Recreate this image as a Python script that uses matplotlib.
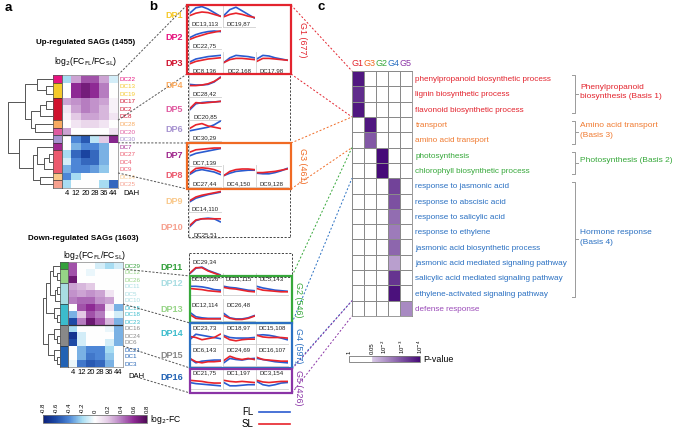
import numpy as np
import matplotlib
matplotlib.use('Agg')
import matplotlib.pyplot as plt
from matplotlib.colors import LinearSegmentedColormap
from matplotlib.patches import Rectangle
from matplotlib.lines import Line2D

plt.rcParams['font.family'] = ['Liberation Sans', 'DejaVu Sans']

W, H = 675, 429

# ------------------------------------------------------------------ data
dah = [4, 12, 20, 28, 36, 44]

up_rows = ['DC22', 'DC13', 'DC19', 'DC17', 'DC2', 'DC8', 'DC28', 'DC20',
           'DC30', 'DC7', 'DC27', 'DC4', 'DC9', 'DC14', 'DC25']
up_values = [
    [-0.20, 0.30, 0.50, 0.50, 0.30, -0.10],
    [0.00, 0.60, 0.68, 0.60, 0.40, 0.00],
    [0.00, 0.60, 0.68, 0.60, 0.40, 0.00],
    [0.30, 0.35, 0.40, 0.35, 0.30, 0.05],
    [0.10, 0.30, 0.40, 0.35, 0.25, 0.05],
    [0.05, 0.20, 0.30, 0.30, 0.25, 0.10],
    [0.00, 0.10, 0.15, 0.15, 0.10, 0.00],
    [0.30, 0.00, 0.00, 0.00, 0.00, 0.10],
    [0.00, -0.40, -0.55, -0.15, 0.20, 0.62],
    [0.00, -0.30, -0.40, -0.40, -0.30, 0.00],
    [-0.20, -0.50, -0.62, -0.50, -0.30, 0.00],
    [-0.10, -0.40, -0.50, -0.50, -0.30, 0.00],
    [-0.30, -0.40, -0.40, -0.35, -0.25, 0.00],
    [-0.40, -0.20, 0.00, 0.00, 0.00, 0.00],
    [-0.20, 0.00, 0.00, 0.00, -0.20, -0.50],
]
up_colors = ['#e6127e', '#f5c82a', '#f5c82a', '#d0122e', '#d0122e', '#d0122e',
             '#f8aa60', '#e05aa0', '#a692d0', '#a0288e', '#ec5a6e', '#ec5a6e',
             '#ec5a6e', '#f9c88a', '#f6a08e']
# linkage: (a, b, height) ; indices >= n are earlier merges
up_links = [(1, 2, 0.15), (0, 15, 0.35), (3, 4, 0.15), (17, 5, 0.30),
            (6, 7, 0.40), (18, 19, 0.50), (16, 20, 0.62),
            (10, 11, 0.10), (22, 12, 0.20), (9, 23, 0.35), (13, 14, 0.30),
            (24, 25, 0.45), (8, 26, 0.75), (21, 27, 1.00)]

down_rows = ['DC29', 'DC12', 'DC26', 'DC11', 'DC5', 'DC10', 'DC15', 'DC18',
             'DC23', 'DC16', 'DC24', 'DC6', 'DC21', 'DC1', 'DC3']
down_values = [
    [0.50, 0.00, 0.00, -0.10, -0.20, -0.10],
    [0.50, 0.00, -0.05, 0.00, 0.00, 0.00],
    [0.70, 0.00, 0.00, 0.00, 0.00, 0.00],
    [0.30, 0.25, 0.20, 0.00, 0.00, 0.00],
    [0.35, 0.30, 0.35, 0.30, 0.10, 0.00],
    [0.40, 0.45, 0.45, 0.35, 0.30, 0.00],
    [0.00, 0.50, 0.60, 0.50, 0.10, -0.30],
    [-0.30, 0.20, 0.50, 0.40, 0.00, -0.10],
    [-0.60, 0.40, 0.70, 0.50, 0.25, -0.30],
    [-0.20, 0.00, 0.00, 0.00, -0.05, -0.30],
    [-0.70, -0.10, 0.00, 0.00, 0.00, -0.30],
    [-0.60, -0.10, 0.00, 0.00, -0.10, -0.30],
    [0.00, -0.30, -0.40, -0.40, -0.20, 0.00],
    [0.00, -0.30, -0.45, -0.40, -0.25, 0.00],
    [-0.05, -0.45, -0.55, -0.50, -0.30, 0.00],
]
down_colors = ['#34a03c', '#96d486', '#96d486', '#a8dde2', '#a8dde2', '#a8dde2',
               '#3cbccc', '#3cbccc', '#3cbccc', '#888888', '#888888', '#888888',
               '#2262b4', '#2262b4', '#2262b4']
down_links = [(1, 2, 0.20), (0, 15, 0.40), (3, 4, 0.15), (17, 5, 0.30),
              (16, 18, 0.60), (7, 8, 0.20), (6, 20, 0.35), (19, 21, 0.80),
              (10, 11, 0.15), (9, 23, 0.35), (13, 14, 0.20), (12, 25, 0.35),
              (24, 26, 0.70), (22, 27, 1.00)]

dp_names = ['DP%d' % i for i in range(1, 17)]
dp_colors = ['#f5c82a', '#e6127e', '#d0122e', '#f8aa60', '#e05aa0', '#a692d0',
             '#a0288e', '#ec5a6e', '#f9c88a', '#f6a08e', '#34a03c', '#a8dde2',
             '#96d486', '#3cbccc', '#888888', '#2262b4']
dp_cells = [['DC13,113', 'DC19,87'], ['DC22,75'], ['DC8,136', 'DC2,168', 'DC17,98'],
            ['DC28,42'], ['DC20,85'], ['DC30,29'], ['DC7,139'],
            ['DC27,44', 'DC4,150', 'DC9,128'], ['DC14,110'], ['DC25,51'],
            ['DC29,34'], ['DC10,126', 'DC11,115', 'DC5,143'], ['DC12,114', 'DC26,48'],
            ['DC23,73', 'DC18,97', 'DC15,108'], ['DC6,143', 'DC24,69', 'DC16,107'],
            ['DC21,75', 'DC1,197', 'DC3,154']]

fl = {'DC13': [0.40, 0.85, 0.95, 0.75, 0.45, 0.15], 'DC19': [0.20, 0.70, 0.90, 0.60, 0.30, 0.00],
      'DC22': [0.20, 0.45, 0.60, 0.70, 0.75, 0.70], 'DC8': [0.25, 0.50, 0.60, 0.70, 0.75, 0.80],
      'DC2': [0.20, 0.60, 0.80, 0.75, 0.70, 0.60], 'DC17': [0.50, 0.80, 0.75, 0.60, 0.50, 0.40],
      'DC28': [0.30, 0.25, 0.25, 0.30, 0.50, 0.90], 'DC20': [0.10, 0.60, 0.70, 0.75, 0.75, 0.80],
      'DC30': [0.10, 0.20, 0.30, 0.40, 0.60, 0.90], 'DC7': [0.10, 0.30, 0.40, 0.50, 0.60, 0.70],
      'DC27': [0.30, 0.60, 0.70, 0.60, 0.50, 0.30], 'DC4': [0.20, 0.40, 0.55, 0.60, 0.65, 0.65],
      'DC9': [0.40, 0.35, 0.35, 0.45, 0.60, 0.80], 'DC14': [0.10, 0.40, 0.55, 0.70, 0.80, 0.90],
      'DC25': [0.20, 0.70, 0.85, 0.90, 0.85, 0.60], 'DC29': [0.30, 0.80, 0.90, 0.60, 0.40, 0.20],
      'DC10': [0.70, 0.70, 0.65, 0.55, 0.40, 0.35], 'DC11': [0.70, 0.60, 0.55, 0.45, 0.35, 0.30],
      'DC5': [0.70, 0.55, 0.45, 0.35, 0.30, 0.25], 'DC12': [0.70, 0.30, 0.20, 0.15, 0.15, 0.15],
      'DC26': [0.60, 0.20, 0.10, 0.10, 0.20, 0.40], 'DC23': [0.30, 0.80, 0.70, 0.60, 0.50, 0.40],
      'DC18': [0.70, 0.50, 0.45, 0.45, 0.45, 0.50], 'DC15': [0.70, 0.75, 0.70, 0.60, 0.45, 0.30],
      'DC6': [0.60, 0.20, 0.35, 0.40, 0.45, 0.45], 'DC24': [0.20, 0.60, 0.50, 0.45, 0.55, 0.60],
      'DC16': [0.60, 0.50, 0.40, 0.30, 0.25, 0.20], 'DC21': [0.50, 0.40, 0.35, 0.30, 0.25, 0.20],
      'DC1': [0.50, 0.20, 0.20, 0.25, 0.30, 0.30], 'DC3': [0.60, 0.30, 0.20, 0.30, 0.45, 0.50]}
sl = {'DC13': [0.20, 0.40, 0.50, 0.45, 0.30, 0.15], 'DC19': [0.10, 0.30, 0.40, 0.30, 0.15, 0.05],
      'DC22': [0.05, 0.25, 0.40, 0.55, 0.65, 0.75], 'DC8': [0.10, 0.30, 0.40, 0.50, 0.55, 0.60],
      'DC2': [0.20, 0.45, 0.55, 0.55, 0.50, 0.45], 'DC17': [0.30, 0.55, 0.55, 0.50, 0.45, 0.40],
      'DC28': [0.20, 0.20, 0.25, 0.35, 0.55, 0.85], 'DC20': [0.20, 0.70, 0.65, 0.70, 0.75, 0.80],
      'DC30': [0.30, 0.60, 0.70, 0.50, 0.40, 0.30], 'DC7': [0.40, 0.60, 0.65, 0.70, 0.75, 0.75],
      'DC27': [0.40, 0.80, 0.85, 0.80, 0.70, 0.50], 'DC4': [0.20, 0.55, 0.70, 0.75, 0.75, 0.70],
      'DC9': [0.45, 0.45, 0.50, 0.55, 0.65, 0.75], 'DC14': [0.20, 0.50, 0.65, 0.75, 0.85, 0.95],
      'DC25': [0.30, 0.75, 0.85, 0.85, 0.85, 0.85], 'DC29': [0.35, 0.85, 0.85, 0.55, 0.35, 0.15],
      'DC10': [0.50, 0.45, 0.40, 0.30, 0.25, 0.20], 'DC11': [0.60, 0.50, 0.45, 0.35, 0.25, 0.20],
      'DC5': [0.50, 0.35, 0.30, 0.25, 0.20, 0.20], 'DC12': [0.50, 0.15, 0.10, 0.10, 0.10, 0.10],
      'DC26': [0.40, 0.15, 0.05, 0.05, 0.15, 0.35], 'DC23': [0.60, 0.50, 0.30, 0.40, 0.50, 0.80],
      'DC18': [0.60, 0.30, 0.20, 0.30, 0.35, 0.35], 'DC15': [0.70, 0.55, 0.50, 0.50, 0.50, 0.45],
      'DC6': [0.60, 0.30, 0.20, 0.30, 0.30, 0.35], 'DC24': [0.40, 0.80, 0.60, 0.50, 0.60, 0.50],
      'DC16': [0.70, 0.50, 0.45, 0.40, 0.35, 0.35], 'DC21': [0.70, 0.65, 0.60, 0.50, 0.45, 0.45],
      'DC1': [0.70, 0.60, 0.55, 0.60, 0.55, 0.50], 'DC3': [0.70, 0.55, 0.50, 0.55, 0.60, 0.60]}

group_labels = ['G1 (677)', 'G3 (461)', 'G2 (546)', 'G4 (597)', 'G5 (426)']
group_colors = ['#e3242e', '#f06a24', '#36a83a', '#2a70c2', '#8a34a6']

go_headers = ['G1', 'G3', 'G2', 'G4', 'G5']
go_terms = ['phenylpropanoid biosynthetic process', 'lignin biosynthetic process',
            'flavonoid biosynthetic process', 'transport', 'amino acid transport',
            'photosynthesis', 'chlorophyll biosynthetic process',
            'response to jasmonic acid', 'response to abscisic acid',
            'response to salicylic acid', 'response to ethylene',
            'jasmonic acid biosynthetic process', 'jasmonic acid mediated signaling pathway',
            'salicylic acid mediated signaling pathway', 'ethylene-activated signaling pathway',
            'defense response']
go_group_idx = [0, 0, 0, 1, 1, 2, 2, 3, 3, 3, 3, 3, 3, 3, 3, 4]
go_neglog10p = [3.8, 3.5, 3.8, 3.8, 2.9, 4.0, 4.0, 3.2, 3.0, 2.6, 2.4, 2.7, 1.9, 3.4, 3.9, 2.2]

basis_labels = ['Phenylpropanoid\nbiosynthesis (Basis 1)', 'Amino acid transport\n(Basis 3)',
                'Photosynthesis (Basis 2)', 'Hormone response\n(Basis 4)']
basis_rows = [(0, 2), (3, 4), (5, 6), (7, 14)]
basis_colors = ['#e3242e', '#f07a30', '#36a83a', '#2a70c2']

# ------------------------------------------------------------------ layout helpers
fig = plt.figure(figsize=(6.75, 4.29), dpi=100)


def pax(x0, y0, x1, y1):
    return fig.add_axes([x0 / W, 1 - y1 / H, (x1 - x0) / W, (y1 - y0) / H])


ov = pax(0, 0, W, H)
ov.set_xlim(0, W)
ov.set_ylim(H, 0)
ov.axis('off')
ov.set_zorder(5)

fc_cmap = LinearSegmentedColormap.from_list('fc', [
    (0, '#0b1f7a'), (0.125, '#1d4aa6'), (0.25, '#4d86d6'), (0.375, '#a6dcf2'),
    (0.5, '#ffffff'), (0.625, '#e4cce6'), (0.75, '#b77fc2'), (0.875, '#8e2a94'),
    (1, '#4e0a55')])


def draw_dendro(links, n, y_top, row_h, x_right, width):
    pos = {i: y_top + (i + 0.5) * row_h for i in range(n)}
    hgt = {i: 0.0 for i in range(n)}
    for k, (a, b, h) in enumerate(links):
        xa = x_right - hgt[a] * width
        xb = x_right - hgt[b] * width
        xh = x_right - h * width
        ov.plot([xa, xh, xh, xb], [pos[a], pos[a], pos[b], pos[b]],
                color='#555555', lw=0.7, solid_capstyle='butt')
        pos[n + k] = (pos[a] + pos[b]) / 2
        hgt[n + k] = h


def heat_block(rows, values, colors, links, hx0, hx1, hy0, hy1, sx0, dx0, split,
               title, tx, ty, lx, ly):
    n = len(rows)
    ax = pax(hx0, hy0, hx1, hy1)
    ax.imshow(np.array(values), cmap=fc_cmap, vmin=-0.8, vmax=0.8, aspect='auto',
              interpolation='nearest')
    ax.set_yticks(range(n))
    ax.set_yticklabels(rows, fontsize=4.5)
    ax.yaxis.tick_right()
    for t, c in zip(ax.get_yticklabels(), colors):
        t.set_color(c)
    ax.set_xticks(range(len(dah)))
    ax.set_xticklabels([str(d) for d in dah], fontsize=5.5)
    ax.tick_params(length=0, pad=1.2)
    for s in ax.spines.values():
        s.set_color('#999999')
        s.set_linewidth(0.6)
    ax.axhline(split - 0.5, color='#333333', lw=0.9)
    # strip
    sax = pax(sx0, hy0, hx0, hy1)
    sax.barh(range(n), [1] * n, height=1.0, color=colors, edgecolor='none')
    sax.set_ylim(n - 0.5, -0.5)
    sax.set_xlim(0, 1)
    for i in range(1, n):
        if colors[i] != colors[i - 1]:
            sax.axhline(i - 0.5, color='#333333', lw=0.5)
    sax.set_xticks([])
    sax.set_yticks([])
    for s in sax.spines.values():
        s.set_color('#555555')
        s.set_linewidth(0.5)
    draw_dendro(links, n, hy0, (hy1 - hy0) / n, sx0, sx0 - dx0)
    ov.text(tx, ty, title, fontsize=5.8, fontweight='bold', ha='center', va='center')
    ov.text(lx, ly, r'log$_2$(FC$_{\rm FL}$/FC$_{\rm SL}$)', fontsize=6.2,
            ha='center', va='center')
    return ax


ax_up = heat_block(up_rows, up_values, up_colors, up_links, 62, 118, 75, 188, 53, 8, 8,
                   'Up-regulated SAGs (1455)', 86, 43, 86, 62)
ov.text(123, 193.5, 'DAH', fontsize=5.5, ha='left', va='center')
ax_dn = heat_block(down_rows, down_values, down_colors, down_links, 68, 123, 262, 367, 60, 43, 9,
                   'Down-regulated SAGs (1603)', 83, 239, 95, 255)
ov.text(128, 377, 'DAH', fontsize=5.5, ha='left', va='center')

# colorbar a
cax = pax(43, 415, 147, 423)
sm = plt.cm.ScalarMappable(cmap=fc_cmap, norm=plt.Normalize(-0.8, 0.8))
cb = fig.colorbar(sm, cax=cax, orientation='horizontal')
cb.set_ticks([-0.8, -0.6, -0.4, -0.2, 0, 0.2, 0.4, 0.6, 0.8])
cb.ax.xaxis.set_ticks_position('top')
cb.ax.tick_params(labelsize=4.3, length=0, pad=1.5, labelrotation=90)
cb.ax.set_xticklabels(['-0.8', '-0.6', '-0.4', '-0.2', '0', '0.2', '0.4', '0.6', '0.8'])
cb.outline.set_edgecolor('#777777')
cb.outline.set_linewidth(0.6)
ov.text(150, 419, r'log$_2$-FC', fontsize=6.2, ha='left', va='center')

# ------------------------------------------------------------------ panel b
dp_y = [16, 38, 63, 86, 109, 130, 155, 176, 201, 227, 267, 284, 310, 333, 355, 378]
col_x = [189, 223, 256]
cell_w = 32
for i, (name, color, cells, yc) in enumerate(zip(dp_names, dp_colors, dp_cells, dp_y)):
    ov.text(183, yc, name, color=color, fontsize=6.5, fontweight='bold', ha='right', va='center')
    upper = i < 10
    for j, cell in enumerate(cells):
        key = cell.split(',')[0]
        ax = pax(col_x[j], yc - 11, col_x[j] + cell_w, yc + 11)
        ax.plot(dah, fl[key], color='#2a5bd0', lw=1.2)
        ax.plot(dah, sl[key], color='#e8232b', lw=1.2)
        ax.set_xlim(3, 45)
        if upper:
            ax.set_ylim(-0.75, 1.083)
            ax.text(0.5, 3.5 / 22, cell, transform=ax.transAxes, fontsize=4.4,
                    ha='center', va='center', color='#222222')
        else:
            ax.set_ylim(-0.09, 1.91)
            ax.text(0.5, 16 / 22, cell, transform=ax.transAxes, fontsize=4.4,
                    ha='center', va='center', color='#222222')
        ax.set_xticks([])
        ax.set_yticks([])
        for sname, s in ax.spines.items():
            if sname in ('left', 'bottom'):
                s.set_color('#d0d0d0')
                s.set_linewidth(0.6)
            else:
                s.set_visible(False)
        ax.patch.set_alpha(0)

# dashed boxes
dash = (0, (2.2, 1.6))
ov.plot([188, 188], [5, 237], color='#444444', lw=0.7, ls=dash)
ov.plot([290, 290], [5, 237], color='#444444', lw=0.7, ls=dash)
ov.plot([188, 290], [237, 237], color='#444444', lw=0.7, ls=dash)
ov.add_patch(Rectangle((189, 253), 103, 24, fill=False, ec='#444444', lw=0.7, ls=dash))

# group boxes
group_boxes = [(187, 5, 291, 74), (187, 143, 291, 189), (190, 276, 292, 323),
               (190, 323, 292, 368), (190, 369, 292, 393)]
group_lx = [303, 303, 298, 298, 298]
group_dy = [0, 0, 0, 0, 7]
for (x0, y0, x1, y1), lab, c, lx, dy in zip(group_boxes, group_labels, group_colors, group_lx, group_dy):
    ov.add_patch(Rectangle((x0, y0), x1 - x0, y1 - y0, fill=False, ec=c, lw=1.6, zorder=6))
    ov.text(lx, (y0 + y1) / 2 + dy, lab, color=c, fontsize=6.4, rotation=270,
            ha='center', va='center')

# connectors a -> b
up_rh = (188 - 75) / 15
dn_rh = (367 - 262) / 15
conn_ab = [((118, 75 + 0 * up_rh), (187, 5)), ((118, 75 + 6 * up_rh), (187, 74)),
           ((118, 75 + 9 * up_rh), (187, 143)), ((118, 75 + 13 * up_rh), (187, 189)),
           ((123, 262 + 1 * dn_rh), (190, 276)), ((123, 262 + 6 * dn_rh), (190, 323)),
           ((123, 262 + 12 * dn_rh), (190, 368)), ((140, 378), (190, 393))]
for (xa, ya), (xb, yb) in conn_ab:
    ov.plot([xa, xb], [ya, yb], color='#555555', lw=0.7, ls=dash)

# legend
handles = [Line2D([], [], color='#2a5bd0', lw=1.2), Line2D([], [], color='#e8232b', lw=1.2)]
fig.legend(handles, ['FL', 'SL'], loc='center', bbox_to_anchor=(266 / W, 1 - 418 / H),
           frameon=False, markerfirst=False, fontsize=7, handlelength=3.2,
           labelspacing=0.2, handletextpad=0.6)

# ------------------------------------------------------------------ panel c
gx0, gx1, gy0, gy1 = 352, 412, 71, 316
gax = pax(gx0, gy0, gx1, gy1)
mat = np.zeros((len(go_terms), len(go_headers)))
for r, (g, v) in enumerate(zip(go_group_idx, go_neglog10p)):
    mat[r, g] = v
p_cmap = LinearSegmentedColormap.from_list('p', [(0, '#ffffff'), (1.30 / 4, '#ffffff'),
                                                 (1.32 / 4, '#d8c8e6'), (1, '#460a78')])
gax.pcolormesh(mat, cmap=p_cmap, vmin=0, vmax=4, edgecolors='#8a8a8a', linewidth=0.6)
gax.set_xlim(0, len(go_headers))
gax.set_ylim(len(go_terms), 0)
gax.set_xticks(np.arange(len(go_headers)) + 0.5)
gax.set_xticklabels(go_headers, fontsize=6.5)
gax.xaxis.tick_top()
for t, c in zip(gax.get_xticklabels(), group_colors):
    t.set_color(c)
gax.set_yticks(np.arange(len(go_terms)) + 0.5)
gax.set_yticklabels(go_terms, fontsize=5.9)
gax.yaxis.tick_right()
for t, g in zip(gax.get_yticklabels(), go_group_idx):
    t.set_color(['#e3242e', '#f07a30', '#36a83a', '#2a70c2', '#9a4ab8'][g])
gax.tick_params(length=0, pad=2.5)
for s in gax.spines.values():
    s.set_color('#8a8a8a')
    s.set_linewidth(0.6)

rh = (gy1 - gy0) / len(go_terms)
for (r0, r1), lab, c in zip(basis_rows, basis_labels, basis_colors):
    ya = gy0 + r0 * rh + 4
    yb = gy0 + (r1 + 1) * rh - 4
    ym = (ya + yb) / 2
    ov.plot([572, 575, 575, 572], [ya, ya, yb, yb], color='#9a9a9a', lw=0.7)
    ov.plot([575, 578], [ym, ym], color='#9a9a9a', lw=0.7)
    ov.text(580, ym - 2, lab, color=c, fontsize=6.0, ha='left', va='center', linespacing=1.55)

# connectors b -> c
row_y = lambda r: gy0 + r * rh
conn_bc = [((291, 5), 0, 0), ((291, 74), 3, 0), ((291, 143), 3, 1), ((291, 189), 5, 1),
           ((292, 276), 5, 2), ((292, 323), 7, 3), ((292, 368), 15, 3),
           ((292, 369), 15, 4), ((292, 393), 16, 4)]
for (xa, ya), r, g in conn_bc:
    ov.plot([xa, gx0], [ya, row_y(r)], color=group_colors[g], lw=0.7, ls=(0, (2, 2)))

# colorbar c
pcax = pax(349, 356, 420, 362)
psm = plt.cm.ScalarMappable(cmap=p_cmap, norm=plt.Normalize(0, 4))
pcb = fig.colorbar(psm, cax=pcax, orientation='horizontal')
pcb.set_ticks([0, 1.301, 2, 3, 4])
pcb.ax.set_xticklabels(['1', '0.05', r'10$^{-2}$', r'10$^{-3}$', r'10$^{-4}$'])
pcb.ax.xaxis.set_ticks_position('top')
pcb.ax.tick_params(labelsize=4.3, length=0, pad=1.5, labelrotation=90)
pcb.outline.set_edgecolor('#777777')
pcb.outline.set_linewidth(0.6)
ov.text(423, 359, 'P-value', fontsize=6.4, ha='left', va='center')

# panel letters
ov.text(5, 8, 'a', fontsize=9.5, fontweight='bold', ha='left', va='center')
ov.text(153, 7, 'b', fontsize=9.5, fontweight='bold', ha='center', va='center')
ov.text(321, 7, 'c', fontsize=9.5, fontweight='bold', ha='center', va='center')

fig.savefig('out.png', dpi=100)
